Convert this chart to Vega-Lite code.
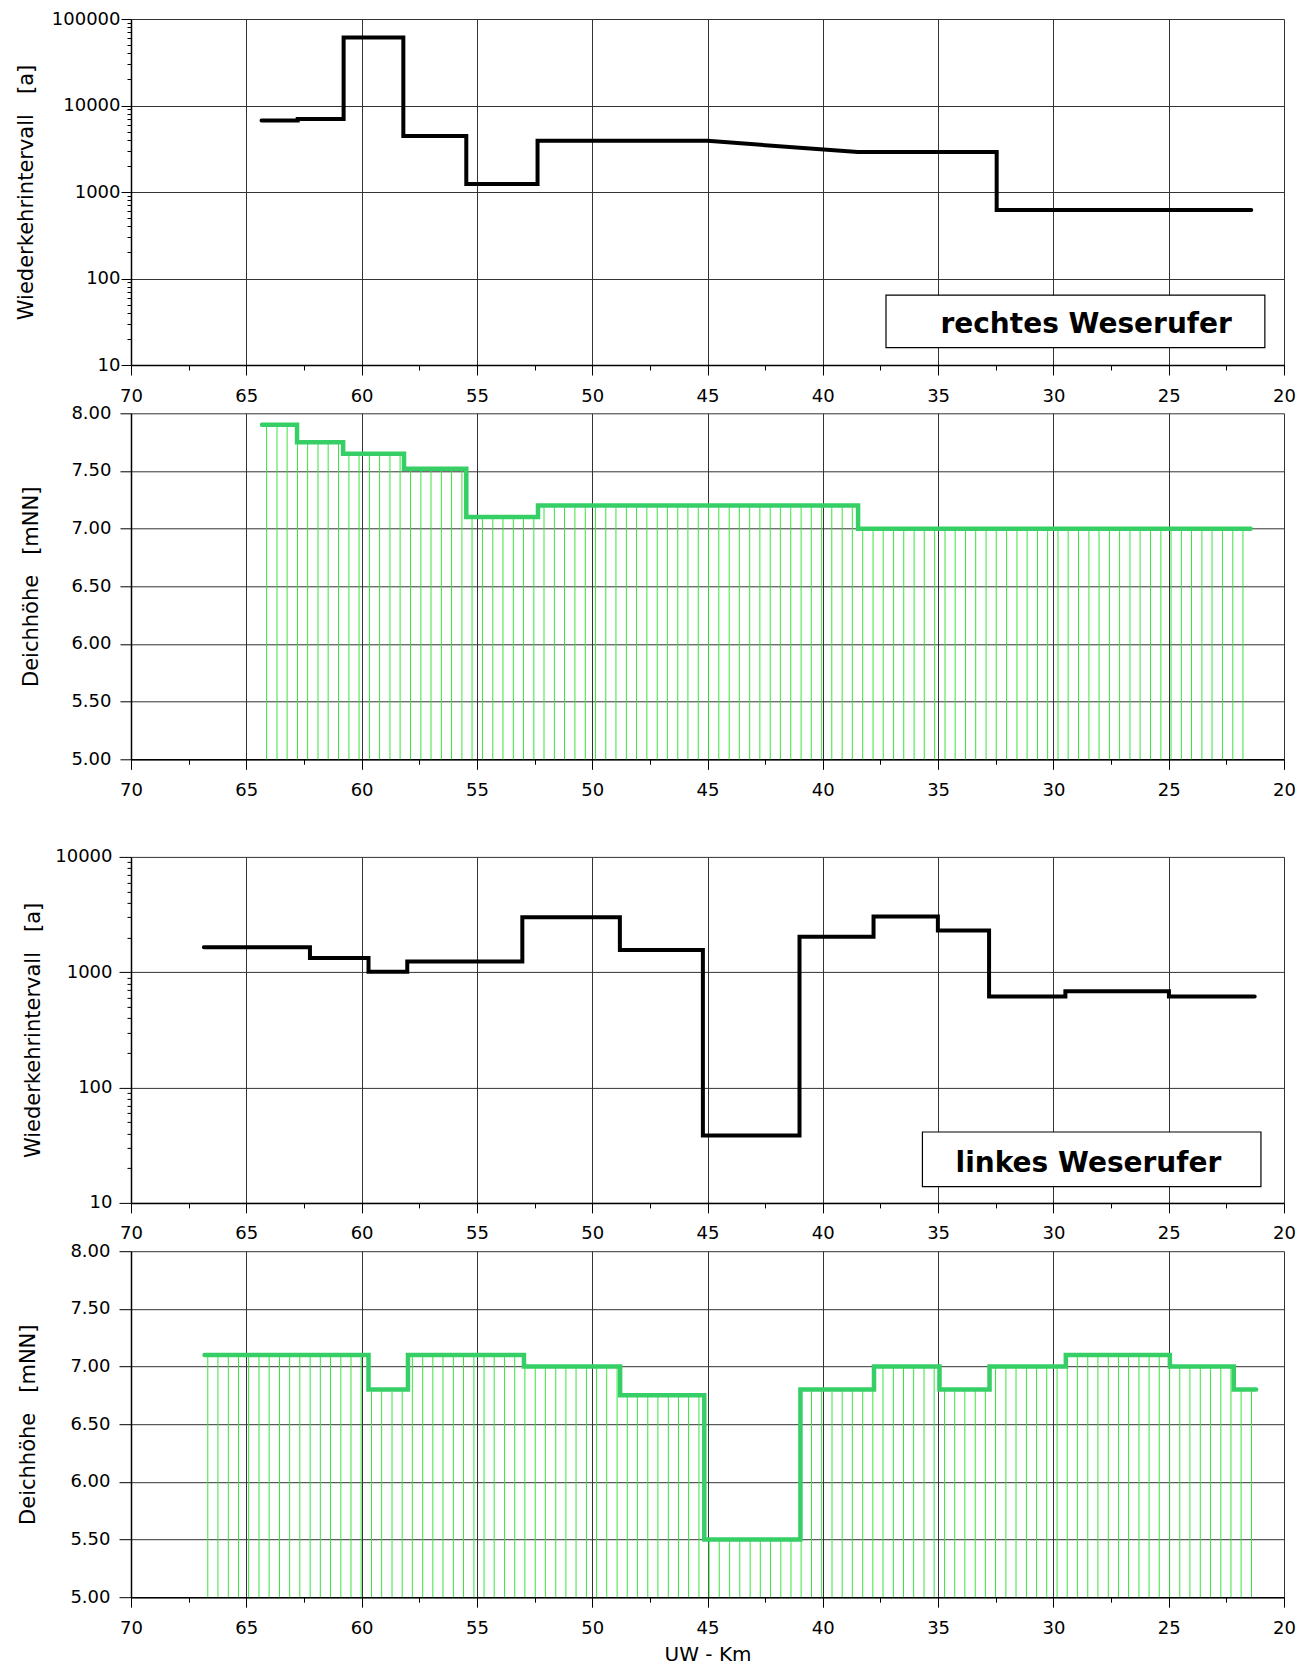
{
  "$schema": "https://vega.github.io/schema/vega-lite/v6.json",
  "padding": {"left": 14, "top": 10, "right": 5, "bottom": 0},
  "bounds": "flush",
  "spacing": 48.3,
  "config": {
    "font": "DejaVu Sans",
    "view": {"stroke": null},
    "axis": {
      "labelFont": "DejaVu Sans", "labelFontSize": 18, "labelColor": "#000",
      "titleFont": "DejaVu Sans", "titleFontSize": 21, "titleFontWeight": "normal", "titleColor": "#000",
      "domainColor": "#000", "domainWidth": 1.5, "tickColor": "#000", "tickWidth": 1,
      "gridColor": "#333", "gridWidth": 1, "labelFlush": false, "labelOverlap": false, "labelBound": false
    }
  },
  "datasets": {
    "rechts_T": [
      {"i":0,"km":64.34,"T":6700},{"i":1,"km":62.77,"T":6700},{"i":2,"km":62.77,"T":7000},{"i":3,"km":60.78,"T":7000},
      {"i":4,"km":60.78,"T":61000},{"i":5,"km":58.19,"T":61000},{"i":6,"km":58.19,"T":4450},{"i":7,"km":55.46,"T":4450},
      {"i":8,"km":55.46,"T":1240},{"i":9,"km":52.37,"T":1240},{"i":10,"km":52.37,"T":3900},{"i":11,"km":45.0,"T":3900},
      {"i":12,"km":38.48,"T":2900},{"i":13,"km":32.46,"T":2900},{"i":14,"km":32.46,"T":620},{"i":15,"km":21.42,"T":620}
    ],
    "rechts_H": [
      {"i":0,"km":64.32,"h":7.9},{"i":1,"km":62.8,"h":7.9},{"i":2,"km":62.8,"h":7.75},{"i":3,"km":60.8,"h":7.75},
      {"i":4,"km":60.8,"h":7.65},{"i":5,"km":58.16,"h":7.65},{"i":6,"km":58.16,"h":7.52},{"i":7,"km":55.46,"h":7.52},
      {"i":8,"km":55.46,"h":7.1},{"i":9,"km":52.35,"h":7.1},{"i":10,"km":52.35,"h":7.2},{"i":11,"km":38.47,"h":7.2},
      {"i":12,"km":38.47,"h":7.0},{"i":13,"km":21.45,"h":7.0}
    ],
    "rechts_hatch": [
      {"km":64.12,"h":7.9},{"km":63.67,"h":7.9},{"km":63.23,"h":7.9},{"km":62.78,"h":7.75},{"km":62.34,"h":7.75},{"km":61.89,"h":7.75},
      {"km":61.45,"h":7.75},{"km":61.0,"h":7.75},{"km":60.55,"h":7.65},{"km":60.11,"h":7.65},{"km":59.66,"h":7.65},{"km":59.22,"h":7.65},
      {"km":58.77,"h":7.65},{"km":58.33,"h":7.65},{"km":57.88,"h":7.52},{"km":57.43,"h":7.52},{"km":56.99,"h":7.52},{"km":56.54,"h":7.52},
      {"km":56.1,"h":7.52},{"km":55.65,"h":7.52},{"km":55.21,"h":7.1},{"km":54.76,"h":7.1},{"km":54.31,"h":7.1},{"km":53.87,"h":7.1},
      {"km":53.42,"h":7.1},{"km":52.98,"h":7.1},{"km":52.53,"h":7.1},{"km":52.09,"h":7.2},{"km":51.64,"h":7.2},{"km":51.2,"h":7.2},
      {"km":50.75,"h":7.2},{"km":50.3,"h":7.2},{"km":49.86,"h":7.2},{"km":49.41,"h":7.2},{"km":48.97,"h":7.2},{"km":48.52,"h":7.2},
      {"km":48.08,"h":7.2},{"km":47.63,"h":7.2},{"km":47.18,"h":7.2},{"km":46.74,"h":7.2},{"km":46.29,"h":7.2},{"km":45.85,"h":7.2},
      {"km":45.4,"h":7.2},{"km":44.96,"h":7.2},{"km":44.51,"h":7.2},{"km":44.06,"h":7.2},{"km":43.62,"h":7.2},{"km":43.17,"h":7.2},
      {"km":42.73,"h":7.2},{"km":42.28,"h":7.2},{"km":41.84,"h":7.2},{"km":41.39,"h":7.2},{"km":40.94,"h":7.2},{"km":40.5,"h":7.2},
      {"km":40.05,"h":7.2},{"km":39.61,"h":7.2},{"km":39.16,"h":7.2},{"km":38.72,"h":7.2},{"km":38.27,"h":7.0},{"km":37.82,"h":7.0},
      {"km":37.38,"h":7.0},{"km":36.93,"h":7.0},{"km":36.49,"h":7.0},{"km":36.04,"h":7.0},{"km":35.6,"h":7.0},{"km":35.15,"h":7.0},
      {"km":34.7,"h":7.0},{"km":34.26,"h":7.0},{"km":33.81,"h":7.0},{"km":33.37,"h":7.0},{"km":32.92,"h":7.0},{"km":32.48,"h":7.0},
      {"km":32.03,"h":7.0},{"km":31.58,"h":7.0},{"km":31.14,"h":7.0},{"km":30.69,"h":7.0},{"km":30.25,"h":7.0},{"km":29.8,"h":7.0},
      {"km":29.36,"h":7.0},{"km":28.91,"h":7.0},{"km":28.46,"h":7.0},{"km":28.02,"h":7.0},{"km":27.57,"h":7.0},{"km":27.13,"h":7.0},
      {"km":26.68,"h":7.0},{"km":26.24,"h":7.0},{"km":25.79,"h":7.0},{"km":25.34,"h":7.0},{"km":24.9,"h":7.0},{"km":24.45,"h":7.0},
      {"km":24.01,"h":7.0},{"km":23.56,"h":7.0},{"km":23.12,"h":7.0},{"km":22.67,"h":7.0},{"km":22.22,"h":7.0},{"km":21.78,"h":7.0}
    ],
    "links_T": [
      {"i":0,"km":66.84,"T":1650},{"i":1,"km":62.24,"T":1650},{"i":2,"km":62.24,"T":1330},{"i":3,"km":59.7,"T":1330},
      {"i":4,"km":59.7,"T":1010},{"i":5,"km":58.02,"T":1010},{"i":6,"km":58.02,"T":1240},{"i":7,"km":53.03,"T":1240},
      {"i":8,"km":53.03,"T":3000},{"i":9,"km":48.8,"T":3000},{"i":10,"km":48.8,"T":1560},{"i":11,"km":45.2,"T":1560},
      {"i":12,"km":45.2,"T":38.5},{"i":13,"km":41.01,"T":38.5},{"i":14,"km":41.01,"T":2030},{"i":15,"km":37.8,"T":2030},
      {"i":16,"km":37.8,"T":3050},{"i":17,"km":35.01,"T":3050},{"i":18,"km":35.01,"T":2300},{"i":19,"km":32.79,"T":2300},
      {"i":20,"km":32.79,"T":615},{"i":21,"km":29.48,"T":615},{"i":22,"km":29.48,"T":685},{"i":23,"km":24.99,"T":685},
      {"i":24,"km":24.99,"T":615},{"i":25,"km":21.27,"T":615}
    ],
    "links_H": [
      {"i":0,"km":66.81,"h":7.1},{"i":1,"km":59.7,"h":7.1},{"i":2,"km":59.7,"h":6.8},{"i":3,"km":57.99,"h":6.8},
      {"i":4,"km":57.99,"h":7.1},{"i":5,"km":52.96,"h":7.1},{"i":6,"km":52.96,"h":7.0},{"i":7,"km":48.79,"h":7.0},
      {"i":8,"km":48.79,"h":6.75},{"i":9,"km":45.14,"h":6.75},{"i":10,"km":45.14,"h":5.5},{"i":11,"km":40.97,"h":5.5},
      {"i":12,"km":40.97,"h":6.8},{"i":13,"km":37.78,"h":6.8},{"i":14,"km":37.78,"h":7.0},{"i":15,"km":34.94,"h":7.0},
      {"i":16,"km":34.94,"h":6.8},{"i":17,"km":32.77,"h":6.8},{"i":18,"km":32.77,"h":7.0},{"i":19,"km":29.46,"h":7.0},
      {"i":20,"km":29.46,"h":7.1},{"i":21,"km":24.95,"h":7.1},{"i":22,"km":24.95,"h":7.0},{"i":23,"km":22.18,"h":7.0},
      {"i":24,"km":22.18,"h":6.8},{"i":25,"km":21.21,"h":6.8}
    ],
    "links_hatch": [
      {"km":66.67,"h":7.1},{"km":66.23,"h":7.1},{"km":65.78,"h":7.1},{"km":65.34,"h":7.1},{"km":64.9,"h":7.1},{"km":64.45,"h":7.1},
      {"km":64.01,"h":7.1},{"km":63.56,"h":7.1},{"km":63.12,"h":7.1},{"km":62.68,"h":7.1},{"km":62.23,"h":7.1},{"km":61.79,"h":7.1},
      {"km":61.35,"h":7.1},{"km":60.9,"h":7.1},{"km":60.46,"h":7.1},{"km":60.02,"h":7.1},{"km":59.57,"h":6.8},{"km":59.13,"h":6.8},
      {"km":58.68,"h":6.8},{"km":58.24,"h":6.8},{"km":57.8,"h":7.1},{"km":57.35,"h":7.1},{"km":56.91,"h":7.1},{"km":56.47,"h":7.1},
      {"km":56.02,"h":7.1},{"km":55.58,"h":7.1},{"km":55.13,"h":7.1},{"km":54.69,"h":7.1},{"km":54.25,"h":7.1},{"km":53.8,"h":7.1},
      {"km":53.36,"h":7.1},{"km":52.92,"h":7.0},{"km":52.47,"h":7.0},{"km":52.03,"h":7.0},{"km":51.58,"h":7.0},{"km":51.14,"h":7.0},
      {"km":50.7,"h":7.0},{"km":50.25,"h":7.0},{"km":49.81,"h":7.0},{"km":49.37,"h":7.0},{"km":48.92,"h":7.0},{"km":48.48,"h":6.75},
      {"km":48.04,"h":6.75},{"km":47.59,"h":6.75},{"km":47.15,"h":6.75},{"km":46.7,"h":6.75},{"km":46.26,"h":6.75},{"km":45.82,"h":6.75},
      {"km":45.37,"h":6.75},{"km":44.93,"h":5.5},{"km":44.49,"h":5.5},{"km":44.04,"h":5.5},{"km":43.6,"h":5.5},{"km":43.15,"h":5.5},
      {"km":42.71,"h":5.5},{"km":42.27,"h":5.5},{"km":41.82,"h":5.5},{"km":41.38,"h":5.5},{"km":40.94,"h":6.8},{"km":40.49,"h":6.8},
      {"km":40.05,"h":6.8},{"km":39.6,"h":6.8},{"km":39.16,"h":6.8},{"km":38.72,"h":6.8},{"km":38.27,"h":6.8},{"km":37.83,"h":6.8},
      {"km":37.39,"h":7.0},{"km":36.94,"h":7.0},{"km":36.5,"h":7.0},{"km":36.06,"h":7.0},{"km":35.61,"h":7.0},{"km":35.17,"h":7.0},
      {"km":34.72,"h":6.8},{"km":34.28,"h":6.8},{"km":33.84,"h":6.8},{"km":33.39,"h":6.8},{"km":32.95,"h":6.8},{"km":32.51,"h":7.0},
      {"km":32.06,"h":7.0},{"km":31.62,"h":7.0},{"km":31.17,"h":7.0},{"km":30.73,"h":7.0},{"km":30.29,"h":7.0},{"km":29.84,"h":7.0},
      {"km":29.4,"h":7.1},{"km":28.96,"h":7.1},{"km":28.51,"h":7.1},{"km":28.07,"h":7.1},{"km":27.62,"h":7.1},{"km":27.18,"h":7.1},
      {"km":26.74,"h":7.1},{"km":26.29,"h":7.1},{"km":25.85,"h":7.1},{"km":25.41,"h":7.1},{"km":24.96,"h":7.1},{"km":24.52,"h":7.0},
      {"km":24.08,"h":7.0},{"km":23.63,"h":7.0},{"km":23.19,"h":7.0},{"km":22.74,"h":7.0},{"km":22.3,"h":7.0},{"km":21.86,"h":6.8},
      {"km":21.41,"h":6.8}
    ]
  },
  "vconcat": [
    {
      "width": 1153, "height": 346,
      "layer": [
        {"data": {"name": "rechts_T"},
         "mark": {"type": "line", "color": "#000", "strokeWidth": 4, "strokeCap": "round", "strokeJoin": "miter", "clip": true},
         "encoding": {
           "x": {"field": "km", "type": "quantitative",
             "scale": {"domain": [20, 70], "reverse": true, "nice": false, "zero": false},
             "axis": {"values": [70,67.5,65,62.5,60,57.5,55,52.5,50,47.5,45,42.5,40,37.5,35,32.5,30,27.5,25,22.5,20],
               "labelExpr": "datum.value % 5 === 0 ? datum.label : ''",
               "tickSize": {"condition": {"test": "datum.value % 5 === 0", "value": 10}, "value": 5},
               "gridOpacity": {"condition": {"test": "datum.value % 5 === 0", "value": 1}, "value": 0},
               "labelPadding": 12, "title": null}},
           "y": {"field": "T", "type": "quantitative",
             "scale": {"type": "log", "domain": [10, 100000], "nice": false},
             "axis": {"values": [10,20,30,40,50,60,70,80,90,100,200,300,400,500,600,700,800,900,1000,2000,3000,4000,5000,6000,7000,8000,9000,10000,20000,30000,40000,50000,60000,70000,80000,90000,100000],
               "format": "d",
               "labelExpr": "indexof([10,100,1000,10000,100000], datum.value) >= 0 ? datum.label : ''",
               "tickSize": {"condition": {"test": "indexof([10,100,1000,10000,100000], datum.value) >= 0", "value": 10}, "value": 4},
               "gridOpacity": {"condition": {"test": "indexof([10,100,1000,10000,100000], datum.value) >= 0", "value": 1}, "value": 0},
               "labelPadding": 1,
               "title": "Wiederkehrintervall\u00a0\u00a0\u00a0[a]", "titleX": -105, "titleBaseline": "middle", "titleAlign": "center"}},
           "order": {"field": "i", "type": "quantitative"}}},
        {"data": {"values": [{"label": "rechtes Weserufer"}]},
         "mark": {"type": "rect", "fill": "#fff", "stroke": "#000", "strokeWidth": 1.2},
         "encoding": {"x": {"datum": 37.26, "type": "quantitative"}, "x2": {"datum": 20.83},
                      "y": {"datum": 64.1, "type": "quantitative"}, "y2": {"datum": 15.9}}},
        {"data": {"values": [{"label": "rechtes Weserufer"}]},
         "mark": {"type": "text", "font": "DejaVu Sans", "fontWeight": "bold", "fontSize": 28, "align": "center", "baseline": "alphabetic", "color": "#000"},
         "encoding": {"x": {"datum": 28.58, "type": "quantitative"}, "y": {"datum": 23.5, "type": "quantitative"},
                      "text": {"field": "label"}}}
      ]
    },
    {
      "width": 1153, "height": 346,
      "layer": [
        {"data": {"name": "rechts_hatch"},
         "mark": {"type": "rule", "color": "#36e63e", "strokeWidth": 1},
         "encoding": {
           "x": {"field": "km", "type": "quantitative",
             "scale": {"domain": [20, 70], "reverse": true, "nice": false, "zero": false},
             "axis": {"values": [70,67.5,65,62.5,60,57.5,55,52.5,50,47.5,45,42.5,40,37.5,35,32.5,30,27.5,25,22.5,20],
               "labelExpr": "datum.value % 5 === 0 ? datum.label : ''",
               "tickSize": {"condition": {"test": "datum.value % 5 === 0", "value": 10}, "value": 5},
               "gridOpacity": {"condition": {"test": "datum.value % 5 === 0", "value": 1}, "value": 0},
               "labelPadding": 12, "title": null}},
           "y": {"field": "h", "type": "quantitative",
             "scale": {"domain": [5, 8], "nice": false, "zero": false},
             "axis": {"values": [5,5.25,5.5,5.75,6,6.25,6.5,6.75,7,7.25,7.5,7.75,8],
               "format": ".2f",
               "labelExpr": "datum.value * 2 === round(datum.value * 2) ? datum.label : ''",
               "tickSize": {"condition": {"test": "datum.value * 2 === round(datum.value * 2)", "value": 11}, "value": 5},
               "gridOpacity": {"condition": {"test": "datum.value * 2 === round(datum.value * 2)", "value": 1}, "value": 0},
               "labelPadding": 9,
               "title": "Deichhöhe\u00a0\u00a0\u00a0[mNN]", "titleX": -100, "titleBaseline": "middle", "titleAlign": "center"}},
           "y2": {"datum": 5}}},
        {"data": {"name": "rechts_H"},
         "mark": {"type": "line", "color": "#36cf65", "strokeWidth": 4.5, "strokeCap": "round", "strokeJoin": "miter"},
         "encoding": {
           "x": {"field": "km", "type": "quantitative", "scale": {"domain": [20, 70], "reverse": true, "nice": false, "zero": false}},
           "y": {"field": "h", "type": "quantitative", "scale": {"domain": [5, 8], "nice": false, "zero": false}},
           "order": {"field": "i", "type": "quantitative"}}}
      ]
    },
    {
      "width": 1153, "height": 0.01,
      "data": {"values": [{}]},
      "mark": {"type": "rule", "opacity": 0},
      "encoding": {}
    },
    {
      "width": 1153, "height": 346,
      "layer": [
        {"data": {"name": "links_T"},
         "mark": {"type": "line", "color": "#000", "strokeWidth": 4, "strokeCap": "round", "strokeJoin": "miter", "clip": true},
         "encoding": {
           "x": {"field": "km", "type": "quantitative",
             "scale": {"domain": [20, 70], "reverse": true, "nice": false, "zero": false},
             "axis": {"values": [70,67.5,65,62.5,60,57.5,55,52.5,50,47.5,45,42.5,40,37.5,35,32.5,30,27.5,25,22.5,20],
               "labelExpr": "datum.value % 5 === 0 ? datum.label : ''",
               "tickSize": {"condition": {"test": "datum.value % 5 === 0", "value": 10}, "value": 5},
               "gridOpacity": {"condition": {"test": "datum.value % 5 === 0", "value": 1}, "value": 0},
               "labelPadding": 12, "title": null}},
           "y": {"field": "T", "type": "quantitative",
             "scale": {"type": "log", "domain": [10, 10000], "nice": false},
             "axis": {"values": [10,20,30,40,50,60,70,80,90,100,200,300,400,500,600,700,800,900,1000,2000,3000,4000,5000,6000,7000,8000,9000,10000],
               "format": "d",
               "labelExpr": "indexof([10,100,1000,10000], datum.value) >= 0 ? datum.label : ''",
               "tickSize": {"condition": {"test": "indexof([10,100,1000,10000], datum.value) >= 0", "value": 12}, "value": 4},
               "gridOpacity": {"condition": {"test": "indexof([10,100,1000,10000], datum.value) >= 0", "value": 1}, "value": 0},
               "labelPadding": 7,
               "title": "Wiederkehrintervall\u00a0\u00a0\u00a0[a]", "titleX": -98, "titleBaseline": "middle", "titleAlign": "center"}},
           "order": {"field": "i", "type": "quantitative"}}},
        {"data": {"values": [{"label": "linkes Weserufer"}]},
         "mark": {"type": "rect", "fill": "#fff", "stroke": "#000", "strokeWidth": 1.2},
         "encoding": {"x": {"datum": 35.68, "type": "quantitative"}, "x2": {"datum": 21.0},
                      "y": {"datum": 41.2, "type": "quantitative"}, "y2": {"datum": 13.86}}},
        {"data": {"values": [{"label": "linkes Weserufer"}]},
         "mark": {"type": "text", "font": "DejaVu Sans", "fontWeight": "bold", "fontSize": 28, "align": "center", "baseline": "alphabetic", "color": "#000"},
         "encoding": {"x": {"datum": 28.48, "type": "quantitative"}, "y": {"datum": 18.7, "type": "quantitative"},
                      "text": {"field": "label"}}}
      ]
    },
    {
      "width": 1153, "height": 346,
      "layer": [
        {"data": {"name": "links_hatch"},
         "mark": {"type": "rule", "color": "#36e63e", "strokeWidth": 1},
         "encoding": {
           "x": {"field": "km", "type": "quantitative",
             "scale": {"domain": [20, 70], "reverse": true, "nice": false, "zero": false},
             "axis": {"values": [70,67.5,65,62.5,60,57.5,55,52.5,50,47.5,45,42.5,40,37.5,35,32.5,30,27.5,25,22.5,20],
               "labelExpr": "datum.value % 5 === 0 ? datum.label : ''",
               "tickSize": {"condition": {"test": "datum.value % 5 === 0", "value": 10}, "value": 5},
               "gridOpacity": {"condition": {"test": "datum.value % 5 === 0", "value": 1}, "value": 0},
               "labelPadding": 12,
               "title": "UW - Km", "titleFontSize": 20, "titleY": 63, "titleBaseline": "alphabetic"}},
           "y": {"field": "h", "type": "quantitative",
             "scale": {"domain": [5, 8], "nice": false, "zero": false},
             "axis": {"values": [5,5.25,5.5,5.75,6,6.25,6.5,6.75,7,7.25,7.5,7.75,8],
               "format": ".2f",
               "labelExpr": "datum.value * 2 === round(datum.value * 2) ? datum.label : ''",
               "tickSize": {"condition": {"test": "datum.value * 2 === round(datum.value * 2)", "value": 12}, "value": 5},
               "gridOpacity": {"condition": {"test": "datum.value * 2 === round(datum.value * 2)", "value": 1}, "value": 0},
               "labelPadding": 9,
               "title": "Deichhöhe\u00a0\u00a0\u00a0[mNN]", "titleX": -103, "titleBaseline": "middle", "titleAlign": "center"}},
           "y2": {"datum": 5}}},
        {"data": {"name": "links_H"},
         "mark": {"type": "line", "color": "#36cf65", "strokeWidth": 4.5, "strokeCap": "round", "strokeJoin": "miter"},
         "encoding": {
           "x": {"field": "km", "type": "quantitative", "scale": {"domain": [20, 70], "reverse": true, "nice": false, "zero": false}},
           "y": {"field": "h", "type": "quantitative", "scale": {"domain": [5, 8], "nice": false, "zero": false}},
           "order": {"field": "i", "type": "quantitative"}}}
      ]
    }
  ]
}
